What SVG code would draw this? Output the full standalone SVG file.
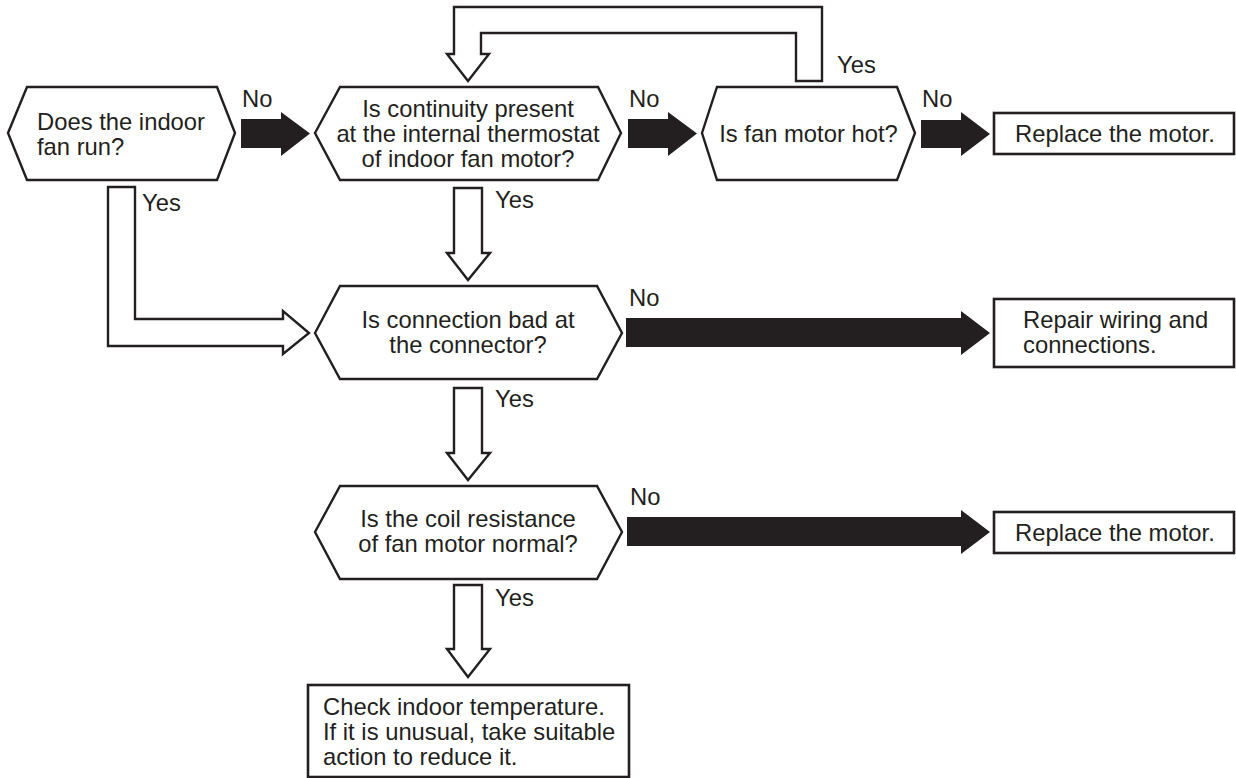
<svg xmlns="http://www.w3.org/2000/svg" width="1236" height="778" viewBox="0 0 1236 778">
<style>
text{font-family:"Liberation Sans",Arial,Helvetica,sans-serif;font-size:23.8px;fill:#231f20}
.c{text-anchor:middle}
.hex{fill:#fff;stroke:#231f20;stroke-width:2.4;stroke-linejoin:miter}
.box{fill:#fff;stroke:#231f20;stroke-width:2.6}
.solid{fill:#231f20;stroke:none}
.hollow{fill:#fff;stroke:#231f20;stroke-width:2.4;stroke-linejoin:miter}
</style>
<rect width="1236" height="778" fill="#fff"/>
<g id="connectors">
<polygon class="solid" points="241,119 281,119 281,112 310,133.5 281,156 281,148 241,148"/>
<polygon class="solid" points="628,119 668,119 668,112 697,133.5 668,156 668,148 628,148"/>
<polygon class="solid" points="921,120 961,120 961,112 990,134 961,156 961,148 921,148"/>
<polygon class="solid" points="626,318 961,318 961,311 990,333 961,355 961,347 626,347"/>
<polygon class="solid" points="627,517 961,517 961,510 990,532 961,554 961,546 627,546"/>
<path class="hollow" d="M108,187 L135,187 L135,319 L283,319 L283,311 L309,333 L283,354 L283,346 L108,346 Z"/>
<path class="hollow" d="M454,188 L482,188 L482,253 L490,253 L468,280 L447,253 L454,253 Z"/>
<path class="hollow" d="M454,388 L482,388 L482,453 L490,453 L468,480 L447,453 L454,453 Z"/>
<path class="hollow" d="M454,585 L482,585 L482,649 L490,649 L468,677 L447,649 L454,649 Z"/>
<path class="hollow" d="M822,81 L822,7 L454,7 L454,54 L447,54 L468,81 L489,54 L481,54 L481,33 L796,33 L796,81 Z"/>
<text x="242" y="107">No</text>
<text x="629" y="107">No</text>
<text x="922" y="107">No</text>
<text x="629" y="306">No</text>
<text x="630" y="505">No</text>
<text x="142" y="211">Yes</text>
<text x="495" y="208">Yes</text>
<text x="837" y="73">Yes</text>
<text x="495" y="407">Yes</text>
<text x="495" y="606">Yes</text>
</g>
<g id="n1">
<polygon class="hex" points="8,133 27,87 217,87 235,133 217,180 27,180"/>
<text x="37" y="130">Does the indoor</text>
<text x="37" y="155">fan run?</text>
</g>
<g id="n2">
<polygon class="hex" points="315,133 340,87 598,87 621,133 598,180 340,180"/>
<text class="c" x="468" y="117">Is continuity present</text>
<text class="c" x="468" y="142">at the internal thermostat</text>
<text class="c" x="468" y="167">of indoor fan motor?</text>
</g>
<g id="n3">
<polygon class="hex" points="702,133 717,87 897,87 915,133 897,180 717,180"/>
<text class="c" x="808.5" y="142">Is fan motor hot?</text>
</g>
<g id="r1">
<rect class="box" x="994" y="113" width="240" height="41"/>
<text x="1015" y="142">Replace the motor.</text>
</g>
<g id="n4">
<polygon class="hex" points="315,333 340,286 597,286 622,333 597,379 340,379"/>
<text class="c" x="468" y="328">Is connection bad at</text>
<text class="c" x="468" y="353">the connector?</text>
</g>
<g id="r2">
<rect class="box" x="994" y="299" width="240" height="68"/>
<text x="1023" y="328">Repair wiring and</text>
<text x="1023" y="353">connections.</text>
</g>
<g id="n5">
<polygon class="hex" points="315,532 340,486 597,486 622,532 597,579 340,579"/>
<text class="c" x="468" y="527">Is the coil resistance</text>
<text class="c" x="468" y="552">of fan motor normal?</text>
</g>
<g id="r3">
<rect class="box" x="994" y="512" width="240" height="41"/>
<text x="1015" y="541">Replace the motor.</text>
</g>
<g id="r4">
<rect class="box" x="308" y="685" width="321" height="92"/>
<text x="323" y="715">Check indoor temperature.</text>
<text x="323" y="740">If it is unusual, take suitable</text>
<text x="323" y="765">action to reduce it.</text>
</g>
</svg>
